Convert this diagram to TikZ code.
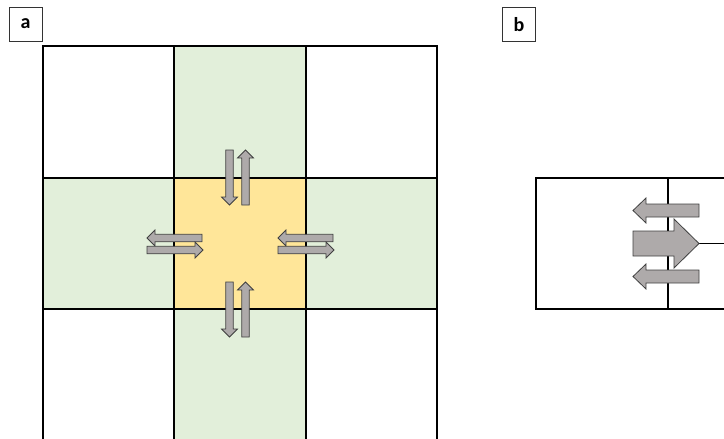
\documentclass[tikz,border=0pt]{standalone}
\usepackage{fontspec}
\setmainfont{Carlito}
\definecolor{cellgreen}{HTML}{E2EFDA}
\definecolor{cellyellow}{HTML}{FFE699}
\definecolor{arrgray}{HTML}{AEAAAA}
\definecolor{arrline}{HTML}{404040}
\newcommand\garrow[7]{%
  \begin{scope}[shift={(#1,#2)},rotate=#3]
    \draw[blockarrow] (0,-#5) -- ({#4-#7},-#5) -- ({#4-#7},-#6) -- (#4,0) -- ({#4-#7},#6) -- ({#4-#7},#5) -- (0,#5) -- cycle;
  \end{scope}}
\begin{document}
\begin{tikzpicture}[x=1pt,y=-1pt,
  gridline/.style={draw=black,line width=1.3pt},
  blockarrow/.style={fill=arrgray,draw=arrline,line width=0.8pt,line join=miter},
  labelbox/.style={draw=black!80,line width=0.9pt,minimum width=33pt,minimum height=34pt,inner sep=0pt,font=\fontsize{20}{20}\selectfont\bfseries}]
\useasboundingbox (0,0) rectangle (724,439);
% panel a fills
\fill[cellgreen] (174,46) rectangle (306,439);
\fill[cellgreen] (43,178) rectangle (437,309);
\fill[cellyellow] (174,178) rectangle (306,309);
% grid
\draw[gridline] (43,439) -- (43,46) -- (437,46) -- (437,439);
\draw[gridline] (174,46) -- (174,439);
\draw[gridline] (306,46) -- (306,439);
\draw[gridline] (43,178) -- (437,178);
\draw[gridline] (43,309) -- (437,309);
% panel a arrows
\garrow{229.5}{150}{270}{55}{3.75}{8}{8}
\garrow{245.5}{205}{90}{55}{3.75}{8}{8}
\garrow{229.5}{282}{270}{55}{3.75}{8}{8}
\garrow{245.5}{337}{90}{55}{3.75}{8}{8}
\garrow{202}{238}{180}{55}{3.75}{8}{8}
\garrow{147}{250}{0}{56}{3.75}{8}{8}
\garrow{333}{238}{180}{55}{3.75}{8}{8}
\garrow{278}{250}{0}{56}{3.75}{8}{8}
% panel b
\draw[gridline] (724,178) -- (536,178) -- (536,309) -- (724,309);
\draw[gridline] (668,178) -- (668,309);
\draw[gridline] (699,243.5) -- (724,243.5);
\garrow{699}{210.5}{180}{66}{6.5}{12.5}{13}
\garrow{699}{276.5}{180}{66}{6.5}{12.5}{13}
\garrow{633}{243.5}{0}{66}{12.5}{24.5}{25}
% labels
\node[labelbox] (la) at (25.5,24) {a};
\node[labelbox] (lb) at (519,24.5) {b};
\end{tikzpicture}
\end{document}
